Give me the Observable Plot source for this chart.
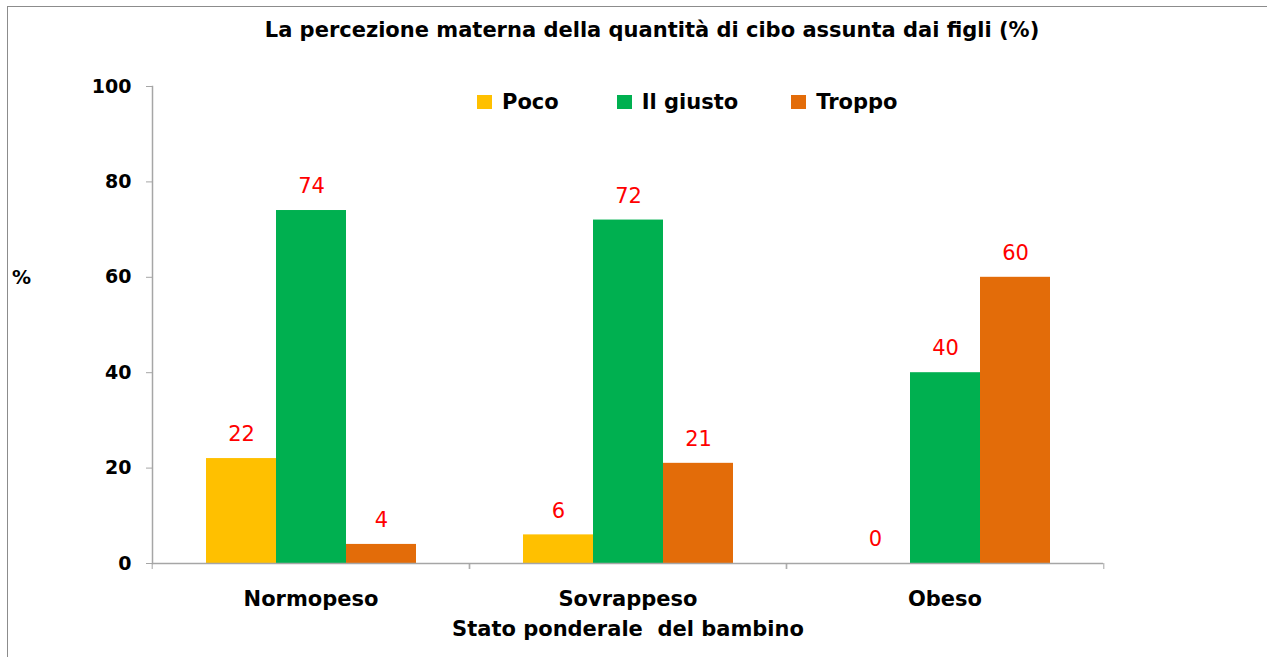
<!DOCTYPE html>
<html>
<head>
<meta charset="utf-8">
<script src="https://cdn.jsdelivr.net/npm/d3@7"></script>
<script src="https://cdn.jsdelivr.net/npm/@observablehq/plot@0.6"></script>
<style>
  html, body { margin: 0; padding: 0; background: #fff; overflow: hidden; }
  body { width: 1267px; height: 657px; position: relative; font-family: "DejaVu Sans", sans-serif; }
  #border { position: absolute; left: 7px; top: 6px; width: 1400px; height: 800px; border: 1px solid #8c8c8c; box-sizing: border-box; }
  #chart { position: absolute; left: 0; top: 0; }
  #title { position: absolute; left: 0; width: 1304px; top: 18px; text-align: center; font-weight: bold; font-size: 21px; color: #000; white-space: nowrap; }
  #ylab { position: absolute; left: 12px; top: 266px; font-weight: bold; font-size: 19px; }
  #legend { position: absolute; left: 477px; top: 90px; }
  .lg-swatches { margin: 0 !important; min-height: 0 !important; }
  .lg-swatch { margin-right: 58px !important; font-weight: bold; font-size: 21px; font-family: "DejaVu Sans", sans-serif; color: #000; }
  .lg-swatch:nth-of-type(2) { margin-right: 53px !important; }
  .lg-swatch > svg { margin-right: 10px !important; }
</style>
</head>
<body>
<div id="border"></div>
<div id="chart"></div>
<div id="title">La percezione materna della quantità di cibo assunta dai figli (%)</div>
<div id="ylab">%</div>
<div id="legend"></div>
<script>
const categories = ["Normopeso", "Sovrappeso", "Obeso"];
const series = ["Poco", "Il giusto", "Troppo"];
const poco = [22, 6, 0];
const ilGiusto = [74, 72, 40];
const troppo = [4, 21, 60];
const yTicks = [0, 20, 40, 60, 80, 100];
const colors = ["#FFC000", "#00B050", "#E36C09"];
const xTitle = "Stato ponderale  del bambino";

const seriesValues = [poco, ilGiusto, troppo];
const rows = categories.flatMap((c, i) =>
  series.map((s, j) => ({cat: c, series: s, value: seriesValues[j][i]}))
);

const gray = "#a6a6a6";

const chart = Plot.plot({
  width: 1267,
  height: 657,
  marginLeft: 151,
  marginRight: 163,
  marginTop: 86,
  marginBottom: 94,
  style: {fontFamily: "DejaVu Sans, sans-serif", fontSize: "21px", background: "transparent", overflow: "visible"},
  fx: {domain: categories, padding: 0, label: null},
  x: {domain: series, paddingInner: 0, paddingOuter: 0.75, axis: null},
  y: {domain: [0, 100], ticks: yTicks, label: null},
  color: {domain: series, range: colors},
  marks: [
    Plot.barY(rows, {fx: "cat", x: "series", y: "value", fill: "series"}),
    Plot.ruleY([0], {stroke: gray, strokeWidth: 1.5}),
    Plot.frame({anchor: "left", facet: "super", stroke: gray, strokeWidth: 1.5}),
    Plot.axisY({ticks: yTicks, tickSize: 6, tickPadding: 15, stroke: gray, fill: "black", fontWeight: "bold", fontSize: 19, label: null}),
    Plot.axisFx({anchor: "bottom", tickSize: 6, dx: -158.8, stroke: gray, tickFormat: () => "", label: null}),
    Plot.axisFx({anchor: "bottom", tickSize: 6, dx: 158.8, stroke: gray, tickFormat: () => "", label: null}),
    Plot.axisFx({anchor: "bottom", tickSize: 0, tickPadding: 28, fill: "black", fontWeight: "bold",
      label: xTitle, labelAnchor: "center", labelOffset: 72}),
    Plot.text(rows, {fx: "cat", x: "series", y: "value", text: d => String(d.value), dy: -24, fill: "#ff0000", fontSize: 21})
  ]
});
document.getElementById("chart").appendChild(chart);

const legend = Plot.legend({
  color: {domain: series, range: colors},
  legend: "swatches",
  swatchWidth: 15,
  swatchHeight: 14,
  className: "lg"
});
document.getElementById("legend").appendChild(legend);
</script>
</body>
</html>
